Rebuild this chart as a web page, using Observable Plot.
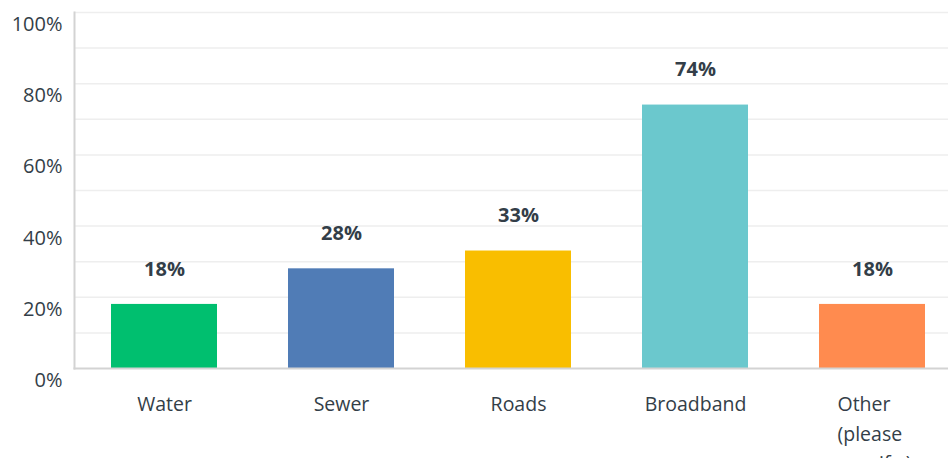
<!DOCTYPE html>
<html>
<head>
<meta charset="utf-8">
<script src="https://cdn.jsdelivr.net/npm/d3@7"></script>
<script src="https://cdn.jsdelivr.net/npm/@observablehq/plot@0.6"></script>
<style>
  html, body { margin: 0; padding: 0; background: #fff; overflow: hidden; }
  #chart svg { display: block; }
</style>
</head>
<body>
<div id="chart"></div>
<script>
const categories = ["Water", "Sewer", "Roads", "Broadband", "Other (please specify)"];
const values = [18, 28, 33, 74, 18];
const colors = ["#00bf6f", "#507cb6", "#f9be00", "#6bc8cd", "#ff8b4f"];
const xLabels = ["Water", "Sewer", "Roads", "Broadband", "Other\n(please\nspecif...)"];
const yTicks = [0, 20, 40, 60, 80, 100];
const gridTicks = [10, 20, 30, 40, 50, 60, 70, 80, 90, 100];

const data = categories.map((c, i) => ({cat: c, value: values[i], label: xLabels[i]}));
const single = data.filter(d => !d.label.includes("\n"));
const multi = data.filter(d => d.label.includes("\n"));

const textColor = "#333e48";
const fs = 19.5;

const chart = Plot.plot({
  width: 948,
  height: 458,
  marginLeft: 74,
  marginRight: 0,
  marginTop: 12,
  marginBottom: 90,
  style: {fontFamily: "'Open Sans', sans-serif", background: "#fff"},
  x: {domain: categories, range: [76, 961], paddingInner: 0.4, paddingOuter: 0.2, axis: null},
  y: {domain: [0, 100], axis: null},
  color: {domain: categories, range: colors},
  marks: [
    Plot.ruleY(gridTicks, {stroke: "#eeeeee", strokeWidth: 1.5}),
    Plot.barY(data, {x: "cat", y: "value", fill: "cat"}),
    Plot.frame({anchor: "left", stroke: "#d3d3d3", strokeWidth: 2}),
    Plot.frame({anchor: "bottom", stroke: "#d3d3d3", strokeWidth: 2}),
    Plot.text(yTicks, {y: d => d, text: d => d + "%", frameAnchor: "left", textAnchor: "end", dx: -12, dy: 12, fontSize: 20, fill: textColor}),
    Plot.text(data, {x: "cat", y: "value", text: d => d.value + "%", dy: -35, fontSize: 20, fontWeight: "bold", fill: textColor}),
    Plot.text(single, {x: "cat", text: "label", frameAnchor: "bottom", lineAnchor: "middle", dy: 36, fontSize: fs, fill: textColor, style: "letter-spacing:0.3px"}),
    Plot.text(multi, {x: "cat", text: "label", frameAnchor: "bottom", lineAnchor: "top", textAnchor: "start", dx: -35, dy: 22, lineHeight: 1.5, fontSize: fs, fill: textColor})
  ]
});
document.getElementById("chart").appendChild(chart);
</script>
</body>
</html>
